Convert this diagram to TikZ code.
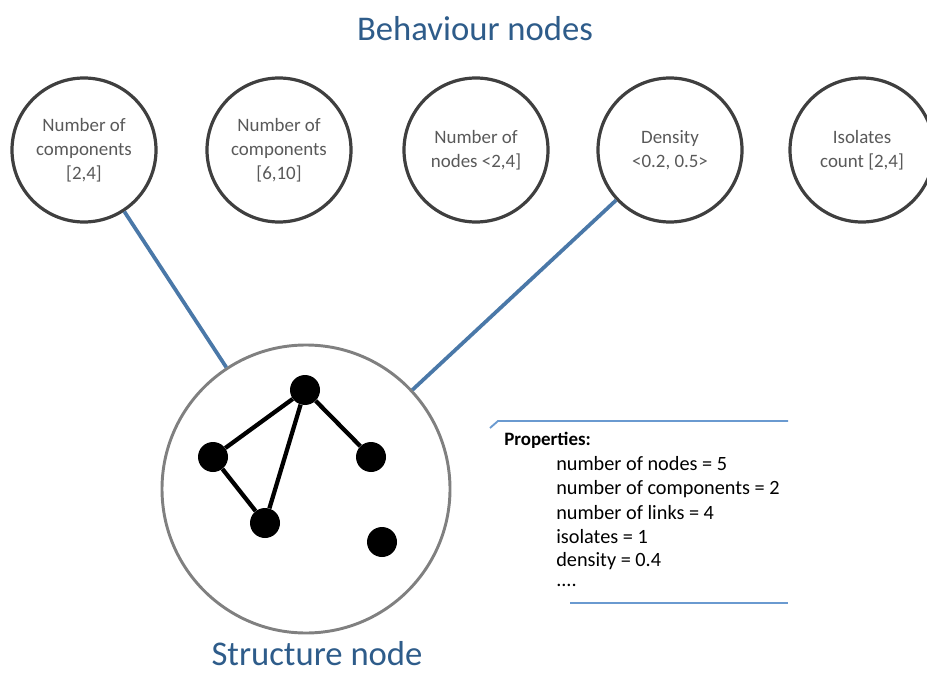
\documentclass[tikz,border=0pt]{standalone}
\usepackage{fontspec}
\setmainfont{Carlito}
\definecolor{titleblue}{HTML}{2E5C8A}
\definecolor{linkblue}{HTML}{4A78A8}
\definecolor{circgray}{HTML}{3F3F3F}
\definecolor{txtgray}{HTML}{595959}
\definecolor{bigcirc}{HTML}{808080}
\definecolor{propblue}{HTML}{6A9AD0}
\begin{document}
\begin{tikzpicture}[x=0.75pt,y=-0.75pt,
  behav/.style={circle,draw=circgray,line width=2.4pt,minimum size=144pt*0.75,inner sep=0pt,
    align=center,text=txtgray,font=\fontsize{14.2}{18}\selectfont},
  link/.style={draw=linkblue,line width=2.8pt},
  gnode/.style={circle,fill=black,minimum size=22.5pt,inner sep=0pt},
  gedge/.style={line width=3.2pt,black},
  title/.style={text=titleblue,inner sep=0pt,font=\fontsize{26}{30}\selectfont},
  prop/.style={font=\fontsize{15.2}{18}\selectfont,anchor=west,inner sep=0pt},
  propline/.style={draw=propblue,line width=1.4pt}]
\useasboundingbox (0,0) rectangle (927,673);
\node[title] (t1) at (475,29) {Behaviour nodes};
\node[behav] (b1) at (84,150) {Number of\\components\\{[}2,4{]}};
\node[behav] (b2) at (279,150) {Number of\\components\\{[}6,10{]}};
\node[behav] (b3) at (476,150) {Number of\\nodes <2,4{]}};
\node[behav] (b4) at (670,150) {Density\\<0.2, 0.5>};
\node[behav] (b5) at (862,150) {Isolates\\count {[}2,4{]}};
\node[circle,draw=bigcirc,line width=2.2pt,minimum size=216pt,inner sep=0pt] (s) at (306,489) {};
\node[title] (t2) at (317,654) {Structure node};
\draw[link] (b1) -- (s);
\draw[link] (b4) -- (s);
\node[gnode] (n1) at (305,390) {};
\node[gnode] (n2) at (213,457) {};
\node[gnode] (n3) at (371,457) {};
\node[gnode] (n4) at (265,523) {};
\node[gnode] (n5) at (382,542) {};
\draw[gedge] (n1) -- (n2);
\draw[gedge] (n1) -- (n3);
\draw[gedge] (n1) -- (n4);
\draw[gedge] (n2) -- (n4);
\coordinate (pa) at (490,428);
\coordinate (pb) at (498,421);
\coordinate (pc) at (788,421);
\coordinate (pd) at (570,603);
\coordinate (pe) at (788,603);
\draw[propline] (pa) -- (pb) -- (pc);
\draw[propline] (pd) -- (pe);
\node[prop,font=\fontsize{14.2}{18}\selectfont\bfseries] (p0) at (504,440) {Properties:};
\node[prop] (p1) at (556,464) {number of nodes = 5};
\node[prop] (p2) at (556,489) {number of components = 2};
\node[prop] (p3) at (556,513) {number of links = 4};
\node[prop] (p4) at (556,537) {isolates = 1};
\node[prop] (p5) at (556,561) {density = 0.4};
\node[prop] (p6) at (556,585) {....};
\end{tikzpicture}
\end{document}
